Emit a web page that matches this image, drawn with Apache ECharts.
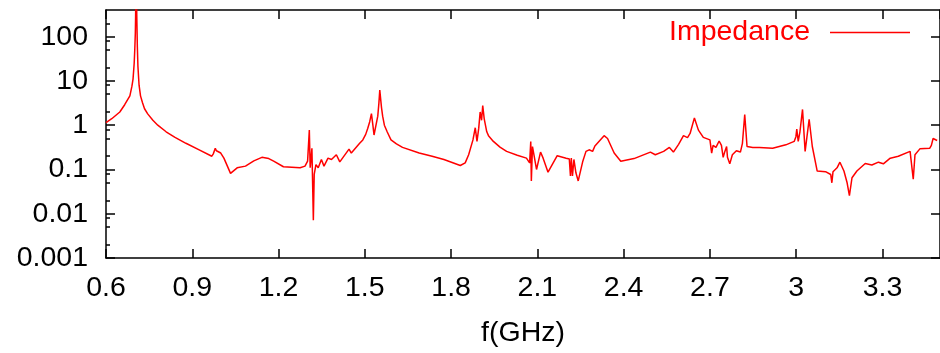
<!DOCTYPE html>
<html><head><meta charset="utf-8">
<script src="https://cdn.jsdelivr.net/npm/echarts@6/dist/echarts.min.js"></script>
<style>html,body{margin:0;padding:0;background:#fff}#c{width:940px;height:353px}</style>
</head><body><div id="c"></div>
<script>
const seriesName = 'Impedance';
const xAxisTitle = 'f(GHz)';
const freqGHz = [0.600,0.620,0.648,0.665,0.683,0.690,0.694,0.698,0.700,0.702,0.703,0.705,0.707,0.709,0.711,0.715,0.720,0.727,0.734,0.745,0.763,0.780,0.809,0.840,0.878,0.924,0.968,0.971,0.973,0.976,0.980,0.984,0.999,1.010,1.033,1.056,1.085,1.114,1.142,1.166,1.183,1.217,1.275,1.292,1.301,1.307,1.310,1.316,1.321,1.324,1.330,1.338,1.349,1.358,1.372,1.384,1.401,1.413,1.445,1.453,1.482,1.493,1.503,1.510,1.517,1.523,1.528,1.532,1.537,1.545,1.549,1.552,1.558,1.562,1.568,1.578,1.591,1.610,1.631,1.689,1.734,1.775,1.832,1.849,1.861,1.876,1.884,1.890,1.896,1.901,1.906,1.910,1.915,1.924,1.930,1.947,1.970,1.993,2.030,2.062,2.073,2.077,2.079,2.083,2.087,2.097,2.111,2.120,2.137,2.169,2.200,2.211,2.215,2.218,2.222,2.227,2.234,2.242,2.258,2.269,2.280,2.292,2.300,2.332,2.344,2.367,2.390,2.436,2.493,2.510,2.539,2.559,2.573,2.591,2.608,2.622,2.631,2.646,2.660,2.677,2.700,2.706,2.711,2.721,2.732,2.740,2.746,2.752,2.758,2.761,2.769,2.778,2.792,2.806,2.813,2.821,2.829,2.849,2.872,2.918,2.964,2.993,2.999,3.002,3.007,3.013,3.022,3.031,3.045,3.056,3.073,3.102,3.120,3.124,3.128,3.142,3.152,3.166,3.177,3.185,3.194,3.211,3.240,3.263,3.286,3.303,3.327,3.355,3.396,3.401,3.407,3.413,3.430,3.464,3.470,3.476,3.490];
const impedance = [1.15,1.4,1.99,2.9,4.6,7.5,11,25,50,120,300,5000,300,60,21.5,8,4.6,3.2,2.35,1.8,1.29,1.0,0.71,0.53,0.39,0.278,0.199,0.192,0.225,0.21,0.30,0.265,0.235,0.18,0.0815,0.109,0.119,0.156,0.188,0.176,0.154,0.115,0.109,0.119,0.154,0.774,0.109,0.30,0.0071,0.077,0.129,0.109,0.168,0.119,0.18,0.168,0.215,0.148,0.288,0.235,0.39,0.465,0.62,0.845,1.2,1.82,1.0,0.6,0.57,1.6,3.2,6.2,2.5,1.6,1.0,0.7,0.465,0.38,0.315,0.235,0.199,0.168,0.123,0.141,0.215,0.465,0.875,0.43,0.845,1.99,1.29,2.78,1.41,0.71,0.58,0.43,0.32,0.256,0.21,0.18,0.141,0.43,0.055,0.33,0.235,0.1,0.247,0.18,0.087,0.205,0.18,0.173,0.071,0.18,0.071,0.168,0.084,0.055,0.154,0.256,0.278,0.256,0.34,0.58,0.5,0.235,0.154,0.176,0.247,0.215,0.256,0.315,0.247,0.37,0.58,0.525,0.65,1.46,0.774,0.53,0.465,0.235,0.35,0.315,0.44,0.35,0.188,0.256,0.33,0.188,0.134,0.215,0.265,0.247,0.39,1.73,0.33,0.315,0.315,0.30,0.36,0.43,0.55,0.815,0.43,0.71,2.27,0.256,1.36,0.33,0.092,0.089,0.077,0.05,0.089,0.109,0.146,0.092,0.05,0.0256,0.065,0.092,0.136,0.126,0.146,0.134,0.18,0.199,0.256,0.235,0.06,0.215,0.292,0.30,0.35,0.5,0.45];
const yMajorTicks = [0.001,0.01,0.1,1,10,100];
const yMinorTicks = [0.002,0.005,0.008,0.02,0.05,0.08,0.2,0.5,0.8,2,5,8,20,50,80,200];
const xMin = 0.6, xMax = 3.5, xStep = 0.3;
const yMin = 0.001, yMax = 400;

const FONT = 'Liberation Sans, Arial, Helvetica, sans-serif';
const FS = 28.5;
const chart = echarts.init(document.getElementById('c'), null, {renderer: 'canvas'});
const axisLine = {show: true, lineStyle: {color: '#000', width: 1.5}};
const noLabel = {show: false};
chart.setOption({
  animation: false,
  backgroundColor: '#fff',
  grid: {left: 106, right: -7, top: 10, bottom: 91, containLabel: false},
  legend: {
    data: [seriesName], right: 30, top: 18, padding: 0, align: 'right',
    icon: 'rect', itemWidth: 80, itemHeight: 1.5,
    itemStyle: {color: '#ff0000'},
    textStyle: {color: '#ff0000', fontSize: FS, fontFamily: FONT, padding: [0, 15, 0, 0]}
  },
  xAxis: [{
    type: 'value', min: xMin, max: xMax, interval: xStep, position: 'bottom',
    name: xAxisTitle, nameLocation: 'middle', nameGap: 61,
    nameTextStyle: {fontSize: FS, color: '#000', fontFamily: FONT},
    axisLine: axisLine,
    axisTick: {show: true, inside: true, length: 9, lineStyle: {color: '#000', width: 1.5}},
    axisLabel: {show: true, fontSize: FS, color: '#000', fontFamily: FONT, margin: 16, showMaxLabel: false},
    splitLine: {show: false}
  }, {
    type: 'value', min: xMin, max: xMax, interval: xStep, position: 'top',
    axisLine: axisLine,
    axisTick: {show: true, inside: true, length: 9, lineStyle: {color: '#000', width: 1.5}},
    axisLabel: noLabel, splitLine: {show: false}
  }],
  yAxis: [{
    type: 'log', min: yMin, max: yMax, position: 'left',
    axisLine: axisLine,
    axisTick: {show: true, inside: true, length: 9, customValues: yMajorTicks, lineStyle: {color: '#000', width: 1.5}},
    axisLabel: {show: true, customValues: yMajorTicks, fontSize: FS, color: '#000', fontFamily: FONT, margin: 18,
      formatter: v => String(+v.toPrecision(6))},
    splitLine: {show: false}
  }, {
    type: 'log', min: yMin, max: yMax, position: 'left',
    axisLine: {show: false},
    axisTick: {show: true, inside: true, length: 4, customValues: yMinorTicks, lineStyle: {color: '#000', width: 1.5}},
    axisLabel: noLabel, splitLine: {show: false}
  }, {
    type: 'log', min: yMin, max: yMax, position: 'right',
    axisLine: axisLine,
    axisTick: {show: true, inside: true, length: 9, customValues: yMajorTicks, lineStyle: {color: '#000', width: 1.5}},
    axisLabel: noLabel, splitLine: {show: false}
  }],
  series: [{
    name: seriesName, type: 'line', xAxisIndex: 0, yAxisIndex: 0,
    symbol: 'none', showSymbol: false, smooth: false,
    lineStyle: {color: '#ff0000', width: 1.5}, itemStyle: {color: '#ff0000'},
    data: freqGHz.map((f, i) => [f, impedance[i]])
  }]
});
</script></body></html>
